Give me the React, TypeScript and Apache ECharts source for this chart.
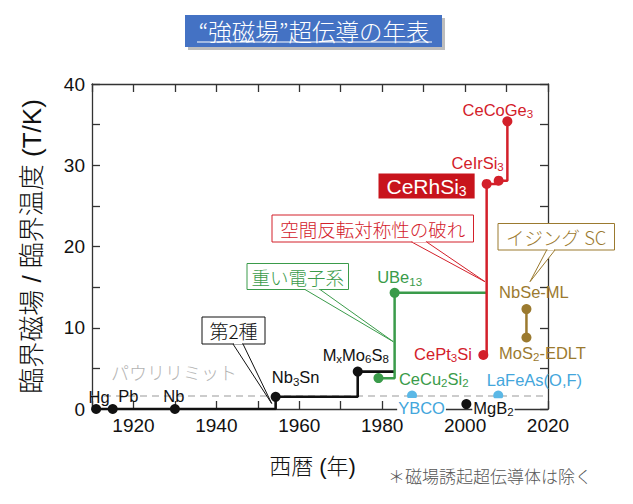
import React, { useEffect, useRef } from "react";
import * as echarts from "echarts";

// ---------- data ----------
const X_MIN = 1910;
const X_MAX = 2020;
const Y_MIN = 0;
const Y_MAX = 40;
const xLabelStep = 20;
const yLabelStep = 10;

const blackNames = ["Hg", "Pb", "Nb", "Nb3Sn", "MxMo6S8"];
const blackYears = [1911, 1915, 1930, 1954.3, 1974.1];
const blackValues = [0, 0, 0, 1.5, 4.6];

const mgNames = ["MgB2"];
const mgYears = [2000.3];
const mgValues = [0.6];

const blueNames = ["YBCO", "LaFeAs(O,F)"];
const blueYears = [1987.2, 2008];
const blueValues = [1.65, 1.65];

const greenNames = ["CeCu2Si2", "UBe13"];
const greenYears = [1979.1, 1983];
const greenValues = [3.8, 14.3];

const redNames = ["CePt3Si", "CeRhSi3", "CeIrSi3", "CeCoGe3"];
const redYears = [2004.4, 2005.2, 2008.1, 2010.2];
const redValues = [6.65, 27.7, 28.1, 35.4];

const brownNames = ["NbSe-ML", "MoS2-EDLT"];
const brownYears = [2014.8, 2014.8];
const brownValues = [12.3, 8.8];

const pauliLimit = 1.6;

// ---------- styling ----------
const C_BLACK = "#111111";
const C_RED = "#d3202a";
const C_GREEN = "#3a9b4a";
const C_BLUE = "#43a6dc";
const C_BROWN = "#9b7a2f";
const C_AXIS = "#333333";
const F_LAT = "'Liberation Sans', Arial, 'Noto Sans CJK JP', sans-serif";
const F_JP = "'Noto Sans CJK JP', 'Liberation Sans', sans-serif";
const W_JP = 300;

// label placement relative to the point centre
const labelPlace: Record<string, { align: string; dx: number; dy: number; bg?: boolean }> = {
  Hg: { align: "center", dx: 3, dy: -12.5 },
  Pb: { align: "center", dx: 15.5, dy: -13 },
  Nb: { align: "center", dx: -1, dy: -13 },
  Nb3Sn: { align: "center", dx: 20, dy: -19.5 },
  MxMo6S8: { align: "center", dx: -2, dy: -16.5 },
  MgB2: { align: "left", dx: 6, dy: 4, bg: true },
  YBCO: { align: "center", dx: 9.5, dy: 12.5, bg: true },
  "LaFeAs(O,F)": { align: "left", dx: -11.5, dy: -15.5 },
  CeCu2Si2: { align: "left", dx: 20.5, dy: 0.5 },
  UBe13: { align: "center", dx: 5, dy: -15.5 },
  CePt3Si: { align: "right", dx: -11.5, dy: -1 },
  CeRhSi3: { align: "right", dx: -12, dy: 2 },
  CeIrSi3: { align: "center", dx: -21, dy: -17.5 },
  CeCoGe3: { align: "center", dx: -9.5, dy: -11.5 },
  "NbSe-ML": { align: "center", dx: 7.5, dy: -17.5 },
  "MoS2-EDLT": { align: "center", dx: 16, dy: 15 },
};

function richName(name: string): string {
  let s = name.replace(/(\d+)/g, "{s|$1}");
  s = s.replace(/^Mx/, "M{s|x}");
  return s;
}

function stepEnd(pts: number[][]): number[][] {
  const out: number[][] = [pts[0]];
  for (let i = 1; i < pts.length; i++) {
    out.push([pts[i][0], pts[i - 1][1]]);
    out.push(pts[i]);
  }
  return out;
}

function pointSeries(names: string[], years: number[], values: number[], color: string, textColor: string) {
  return {
    type: "scatter",
    symbol: "circle",
    symbolSize: 10,
    itemStyle: { color, opacity: 1 },
    z: 5,
    data: names.map((n, i) => {
      const p = labelPlace[n];
      const item: any = {
        name: n,
        value: [years[i], values[i]],
        label: { align: p.align, offset: [p.dx, p.dy] },
      };
      if (p.bg) {
        item.label.backgroundColor = "#ffffff";
        item.label.padding = [0, 1];
      }
      if (n === "CeRhSi3") {
        item.label = {
          ...item.label,
          backgroundColor: "#c8141c",
          color: "#ffffff",
          fontSize: 21,
          lineHeight: 24,
          padding: [1, 8, 0, 8],
          rich: { s: { fontSize: 14, lineHeight: 14, verticalAlign: "bottom", color: "#ffffff", fontFamily: F_LAT } },
        };
      }
      return item;
    }),
    label: {
      show: true,
      position: "inside",
      verticalAlign: "middle",
      color: textColor,
      fontSize: 16.5,
      lineHeight: 20,
      fontFamily: F_LAT,
      formatter: (p: any) => richName(p.name),
      rich: { s: { fontSize: 11.5, lineHeight: 11, verticalAlign: "bottom", color: textColor, fontFamily: F_LAT } },
    },
    emphasis: { disabled: true },
  };
}

function lineSeries(data: number[][], color: string, width = 2.5) {
  return {
    type: "line",
    data,
    symbol: "none",
    lineStyle: { color, width },
    z: 3,
    silent: true,
  };
}

function callout(
  x: number, y: number, w: number, h: number, text: string, color: string,
  base1: number[], base2: number[], tip: number[], fontSize = 18.5
) {
  return [
    { type: "rect", shape: { x, y, width: w, height: h }, style: { fill: "#ffffff", stroke: color, lineWidth: 1 }, z: 100 },
    { type: "polygon", shape: { points: [base1, tip, base2] }, style: { fill: "#ffffff", stroke: color, lineWidth: 1 }, z: 101 },
    { type: "line", shape: { x1: base1[0] + 0.8, y1: base1[1] - 0.5, x2: base2[0] - 0.8, y2: base2[1] - 0.5 }, style: { stroke: "#ffffff", lineWidth: 1.6 }, z: 102 },
    {
      type: "text", x: x + w / 2, y: y + h / 2, z: 103,
      style: { text, fill: color, fontSize, fontWeight: W_JP, fontFamily: F_JP, align: "center", verticalAlign: "middle" },
    },
  ];
}

export default function App() {
  const ref = useRef<HTMLDivElement>(null);
  useEffect(() => {
    if (!ref.current) return;
    const chart = echarts.init(ref.current, undefined, { renderer: "svg" });

    const blackPath = stepEnd([
      [X_MIN, blackValues[0]],
      [blackYears[3], blackValues[3]],
      [blackYears[4], blackValues[4]],
      [greenYears[1], blackValues[4]],
    ]);
    const greenPath = stepEnd([
      [greenYears[0], greenValues[0]],
      [greenYears[1], greenValues[1]],
      [redYears[1], greenValues[1]],
    ]);
    const redPath = stepEnd(redYears.map((y, i) => [y, redValues[i]]));
    const brownPath = brownYears.map((y, i) => [y, brownValues[i]]);

    const axisCommon = {
      type: "value",
      axisLine: { show: true, onZero: false, lineStyle: { color: C_AXIS, width: 1.3 } },
      axisTick: { show: true, inside: true, length: 8, lineStyle: { color: C_AXIS, width: 1.3 } },
      splitLine: { show: false },
    };

    const option: any = {
      animation: false,
      grid: { left: 92, right: 85, top: 84, bottom: 95, containLabel: false },
      xAxis: [
        {
          ...axisCommon,
          position: "bottom",
          min: X_MIN,
          max: X_MAX,
          interval: 10,
          axisLabel: {
            formatter: (v: number) => (v % xLabelStep === 0 ? String(v) : ""),
            fontSize: 19,
            color: "#111",
            fontFamily: F_LAT,
            margin: 7,
          },
        },
        {
          ...axisCommon,
          position: "top",
          min: X_MIN,
          max: X_MAX,
          interval: 10,
          axisLabel: { show: false },
        },
      ],
      yAxis: [
        {
          ...axisCommon,
          position: "left",
          min: Y_MIN,
          max: Y_MAX,
          interval: 5,
          axisLabel: {
            formatter: (v: number) => (v % yLabelStep === 0 ? String(v) : ""),
            fontSize: 19,
            color: "#111",
            fontFamily: F_LAT,
            margin: 7,
          },
        },
        {
          ...axisCommon,
          position: "right",
          min: Y_MIN,
          max: Y_MAX,
          interval: 5,
          axisLabel: { show: false },
        },
      ],
      series: [
        {
          type: "line",
          data: [[X_MIN, pauliLimit], [X_MAX, pauliLimit]],
          symbol: "none",
          lineStyle: { color: "#9a9a9a", width: 1.2, type: [7, 5] },
          z: 1,
          silent: true,
        },
        lineSeries(blackPath, C_BLACK, 2.6),
        lineSeries(greenPath, C_GREEN, 2.5),
        lineSeries(redPath, C_RED, 2.5),
        lineSeries(brownPath, C_BROWN, 2.5),
        pointSeries(blackNames, blackYears, blackValues, C_BLACK, C_BLACK),
        pointSeries(mgNames, mgYears, mgValues, C_BLACK, C_BLACK),
        pointSeries(blueNames, blueYears, blueValues, "#5bb8e6", C_BLUE),
        pointSeries(greenNames, greenYears, greenValues, C_GREEN, C_GREEN),
        pointSeries(redNames, redYears, redValues, C_RED, C_RED),
        pointSeries(brownNames, brownYears, brownValues, C_BROWN, C_BROWN),
      ],
      graphic: [
        // title
        { type: "rect", shape: { x: 188, y: 18, width: 257, height: 32 }, style: { fill: "#bdbdbd" }, z: 100 },
        { type: "rect", shape: { x: 185, y: 15, width: 257, height: 32 }, style: { fill: "#4472c4" }, z: 101 },
        {
          type: "text", x: 314, y: 30.5, z: 102,
          style: { text: "“強磁場”超伝導の年表", fill: "#ffffff", fontSize: 23.5, fontWeight: W_JP, fontFamily: F_JP, align: "center", verticalAlign: "middle" },
        },
        { type: "line", shape: { x1: 197, y1: 42, x2: 432, y2: 42 }, style: { stroke: "#ffffff", lineWidth: 1.2 }, z: 102 },
        // pauli limit text
        {
          type: "text", x: 174, y: 372, z: 95,
          style: { text: "パウリリミット", fill: "#b4b4b4", fontSize: 18, fontWeight: W_JP, fontFamily: F_JP, align: "center", verticalAlign: "middle" },
        },
        // callouts
        ...callout(202, 317, 63, 27, "第2種", "#111111", [233, 344], [243, 344], [271.7, 403.5], 19),
        ...callout(247, 263.5, 101.5, 26, "重い電子系", C_GREEN, [305, 289.5], [320, 289.5], [393.3, 341.7]),
        ...callout(272, 215, 201.5, 27, "空間反転対称性の破れ", C_RED, [411.7, 242], [426.7, 242], [485, 281.7]),
        ...callout(498, 223.5, 116.5, 26.5, "イジング SC", C_BROWN, [546.7, 250], [555, 250], [530, 281.7]),
        // axis names
        {
          type: "text", x: 312.5, y: 466, z: 100,
          style: { text: "西暦 (年)", fill: "#111", fontSize: 22, fontWeight: W_JP, fontFamily: F_LAT, align: "center", verticalAlign: "middle" },
        },
        {
          type: "text", x: 31.5, y: 246.5, rotation: Math.PI / 2, z: 100,
          style: { text: "臨界磁場 / 臨界温度 (T/K)", fill: "#111", fontSize: 26, fontWeight: W_JP, fontFamily: F_LAT, align: "center", verticalAlign: "middle" },
        },
        {
          type: "text", x: 490, y: 475, z: 100,
          style: { text: "＊磁場誘起超伝導体は除く", fill: "#555", fontSize: 17, fontWeight: W_JP, fontFamily: F_JP, align: "center", verticalAlign: "middle" },
        },
      ],
    };

    chart.setOption(option);
    return () => chart.dispose();
  }, []);

  return (
    <div
      ref={ref}
      style={{ position: "fixed", left: 0, top: 0, width: 633, height: 504, background: "#ffffff" }}
    />
  );
}
